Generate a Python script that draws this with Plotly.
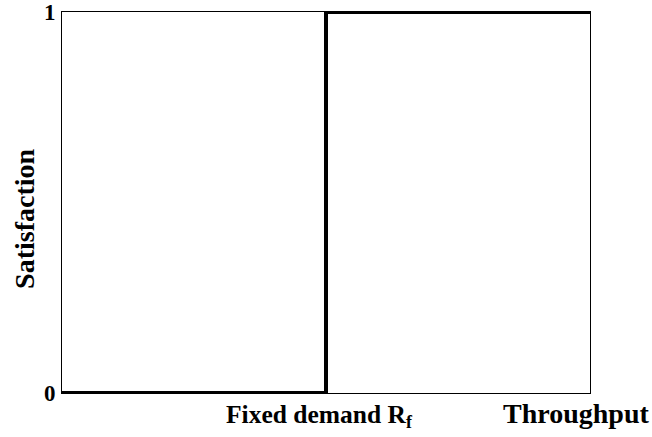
import plotly.graph_objects as go

# Data: step satisfaction function
throughput = [0, 0.5, 1]
satisfaction = [0, 1, 1]
y_ticks = [0, 1]
y_tick_labels = ["<b>0</b>", "<b>1</b>"]

FONT = "Liberation Serif"

fig = go.Figure()
fig.add_trace(go.Scatter(
    x=throughput, y=satisfaction, mode="lines",
    line=dict(shape="hv", color="black", width=4),
    cliponaxis=False, showlegend=False, hoverinfo="skip",
))

fig.update_layout(
    width=652, height=437,
    margin=dict(l=62, r=62, t=12, b=44, autoexpand=False),
    paper_bgcolor="white", plot_bgcolor="white",
    font=dict(family=FONT, color="black"),
    xaxis=dict(range=[0, 1], showticklabels=False, ticks="", showgrid=False,
               zeroline=False, showline=True, linecolor="black", linewidth=1,
               mirror=True, automargin=False),
    yaxis=dict(range=[0, 1], tickvals=y_ticks, ticktext=y_tick_labels, ticks="",
               tickfont=dict(family=FONT, size=23, color="black"),
               showgrid=False, zeroline=False, showline=True, linecolor="black",
               linewidth=1, mirror=True, ticklabelstandoff=1, automargin=False,
               ticklabeloverflow="allow"),
    annotations=[
        dict(text="<b>Satisfaction</b>", textangle=-90, xref="paper", yref="paper",
             x=-0.07, y=0.457, xanchor="center", yanchor="middle", showarrow=False,
             font=dict(family=FONT, size=28, color="black")),
        dict(text="<b>Throughput</b>", xref="paper", yref="paper",
             x=1.116, y=-0.0525, xanchor="right", yanchor="middle", showarrow=False,
             font=dict(family=FONT, size=28, color="black")),
        dict(text="<b>Fixed demand R<sub>f</sub></b>", xref="paper", yref="paper",
             x=0.487, y=-0.06, xanchor="center", yanchor="middle", showarrow=False,
             font=dict(family=FONT, size=25.5, color="black")),
    ],
)

fig.write_html("out.html", config={"displayModeBar": False},
               post_script="document.body.style.margin='0';")
